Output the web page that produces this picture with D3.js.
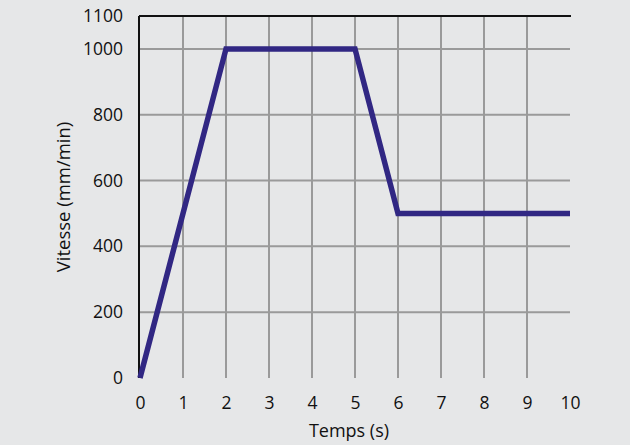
<!DOCTYPE html>
<html><head><meta charset="utf-8">
<script src="https://cdn.jsdelivr.net/npm/d3@7"></script>
<style>body{margin:0;background:#e6e7e8;} text{font-family:"Open Sans",sans-serif;fill:#111;}</style>
</head><body>
<svg id="c" width="630" height="445"></svg>
<script>
const times = [0, 2, 5, 6, 10];
const speeds = [0, 1000, 1000, 500, 500];
const xTicks = [0,1,2,3,4,5,6,7,8,9,10];
const yTicks = [0,200,400,600,800,1000,1100];
const xGrid = [1,2,3,4,5,6,7,8,9];
const yGrid = [200,400,600,800,1000];

const svg = d3.select("#c");
svg.append("rect").attr("width",630).attr("height",445).attr("fill","#e6e7e8");
const x = d3.scaleLinear().domain([0,10]).range([140,570]);
const y = d3.scaleLinear().domain([0,1100]).range([378,16]);

const g = svg.append("g");
g.selectAll(".vg").data(xGrid).join("line")
 .attr("x1",d=>x(d)).attr("x2",d=>x(d)).attr("y1",y(1100)).attr("y2",y(0))
 .attr("stroke","#9a9a9a").attr("stroke-width",2);
g.selectAll(".hg").data(yGrid).join("line")
 .attr("x1",x(0)).attr("x2",x(10)).attr("y1",d=>y(d)).attr("y2",d=>y(d))
 .attr("stroke","#9a9a9a").attr("stroke-width",2);
g.append("line").attr("x1",x(0)-1).attr("x2",x(10)+1).attr("y1",y(1100)).attr("y2",y(1100)).attr("stroke","#111").attr("stroke-width",2);
g.append("line").attr("x1",x(0)-1).attr("x2",x(0)-1).attr("y1",y(1100)).attr("y2",y(0)).attr("stroke","#111").attr("stroke-width",2);

const fs = 17.5;
const xAxis = d3.axisBottom(x).tickValues(xTicks).tickSize(0).tickPadding(0).tickFormat(d3.format("d"));
const ax = svg.append("g").attr("transform","translate(0,397)").call(xAxis);
ax.select(".domain").remove();
ax.selectAll("text").attr("font-size",fs).attr("font-family","Open Sans").attr("fill","#111").attr("dy","0.71em");
const yAxis = d3.axisLeft(y).tickValues(yTicks).tickSize(0).tickPadding(0).tickFormat(d3.format("d"));
const ay = svg.append("g").attr("transform","translate(123,0)").call(yAxis);
ay.select(".domain").remove();
ay.selectAll("text").attr("font-size",fs).attr("font-family","Open Sans").attr("fill","#111");

const line = d3.line().x((d,i)=>x(times[i])).y(d=>y(d));
svg.append("path").attr("d",line(speeds)).attr("fill","none")
 .attr("stroke","#312783").attr("stroke-width",5.5).attr("stroke-linejoin","miter");

svg.append("text").attr("x",349).attr("y",437).attr("text-anchor","middle").attr("font-size",18).text("Temps (s)");
svg.append("text").attr("transform","translate(70,197) rotate(-90)").attr("text-anchor","middle").attr("font-size",18.5).text("Vitesse (mm/min)");
</script>
</body></html>
